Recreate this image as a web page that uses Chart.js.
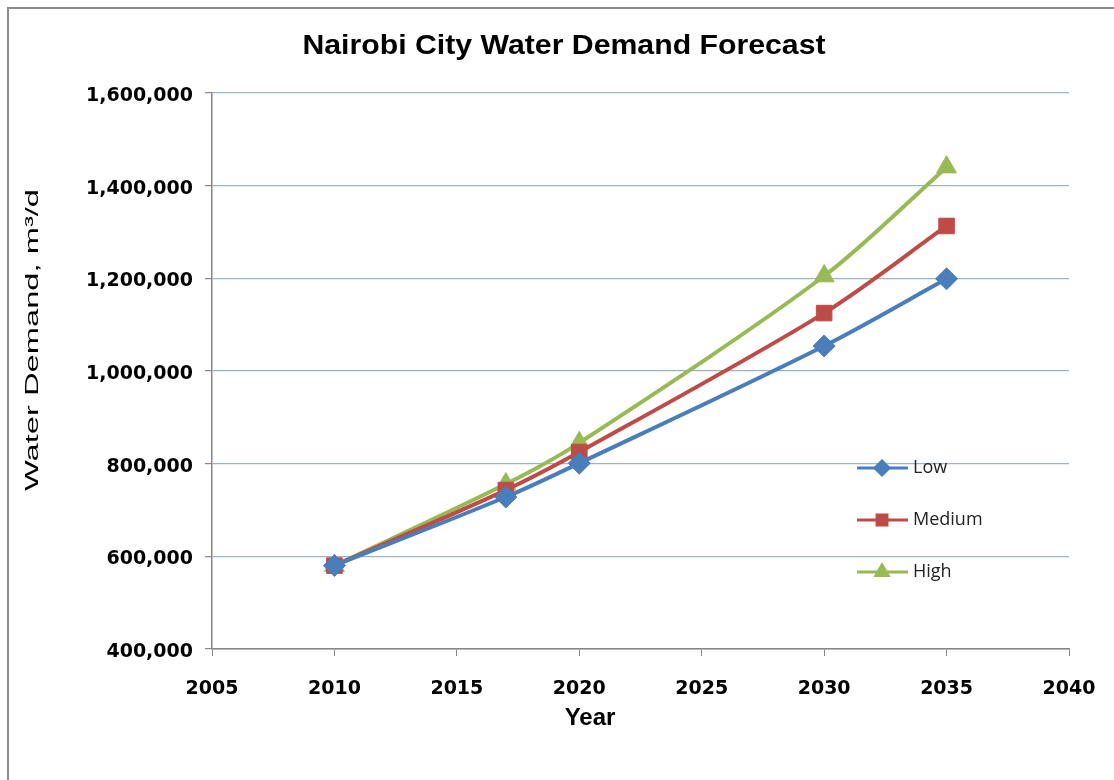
<!DOCTYPE html>
<html>
<head>
<meta charset="utf-8">
<script src="https://cdn.jsdelivr.net/npm/chart.js@4.4.1/dist/chart.umd.min.js"></script>
<style>
  html, body { margin: 0; padding: 0; background: #fff; }
  #wrap { position: relative; width: 1114px; height: 780px; overflow: hidden; }
  #frame { position: absolute; left: 7px; top: 7px; width: 1200px; height: 900px; border: 2px solid #8c8c8c; box-sizing: border-box; }
  #c { position: absolute; left: 0; top: 0; }
</style>
</head>
<body>
<div id="wrap">
  <div id="frame"></div>
  <canvas id="c" width="1114" height="780"></canvas>
</div>
<script>
// ---------- data ----------
const years  = [2010, 2017, 2020, 2030, 2035];
const low    = [580000, 728000, 801000, 1054000, 1199000];
const medium = [580000, 743000, 825000, 1125000, 1313000];
const high   = [580000, 756000, 845000, 1205000, 1440000];

const seriesNames = ["Low", "Medium", "High"];
const colors = ["#4a7ebb", "#be4b48", "#98b954"];
const markers = ["rectRot", "rect", "triangle"];

const chartTitle = "Nairobi City Water Demand Forecast";
const xTitle = "Year";
const yTitle = "Water Demand, m³/d";

const tickFont = { family: "DejaVu Sans", size: 19, weight: "bold" };

function pts(vals) { return years.map((y, i) => ({ x: y, y: vals[i] })); }

function ds(i, vals) {
  return {
    label: seriesNames[i],
    data: pts(vals),
    borderColor: colors[i],
    backgroundColor: colors[i],
    borderWidth: 4,
    tension: 0.3,
    pointStyle: markers[i],
    pointRadius: i === 2 ? 11.5 : 11,
    pointBorderWidth: 1,
    pointBorderColor: colors[i],
    pointBackgroundColor: colors[i]
  };
}

// titles: the original's text is stretched, so draw with a scale
function stretchedText(ctx, text, font, x, y, sx, rot) {
  ctx.save();
  ctx.translate(x, y);
  if (rot) ctx.rotate(rot);
  ctx.scale(sx, 1);
  ctx.font = font;
  ctx.fillStyle = "#000";
  ctx.textAlign = "center";
  ctx.textBaseline = "middle";
  ctx.fillText(text, 0, 0);
  ctx.restore();
}

const titles = {
  id: "titles",
  afterDraw(chart) {
    const ctx = chart.ctx;
    stretchedText(ctx, chartTitle, "bold 28px 'Liberation Sans'", 564, 46, 1.08, 0);
    stretchedText(ctx, xTitle, "bold 24px 'Liberation Sans'", 590, 718, 1.0, 0);
    stretchedText(ctx, yTitle, "19px 'Liberation Sans'", 33, 340, 1.72, -Math.PI / 2);
  }
};

// legend drawn inside the plot area, like the Excel original
const innerLegend = {
  id: "innerLegend",
  afterDatasetsDraw(chart) {
    const ctx = chart.ctx;
    const rows = [468, 520, 572];
    ctx.save();
    seriesNames.forEach((name, i) => {
      const y = rows[i];
      ctx.strokeStyle = colors[i];
      ctx.lineWidth = 3;
      ctx.beginPath();
      ctx.moveTo(857, y); ctx.lineTo(908, y);
      ctx.stroke();
      ctx.fillStyle = colors[i];
      Chart.helpers.drawPoint(ctx, { pointStyle: markers[i], radius: 7, borderWidth: 1 }, 882, y);
      ctx.fill();
      ctx.fillStyle = "#222";
      ctx.font = "18px 'Open Sans'";
      ctx.textBaseline = "middle";
      ctx.fillText(name, 913, y);
    });
    ctx.restore();
  }
};

new Chart(document.getElementById("c"), {
  type: "line",
  data: { datasets: [ds(0, low), ds(1, medium), ds(2, high)] },
  options: {
    responsive: false,
    animation: false,
    layout: { padding: { left: 0, right: 45, top: 93, bottom: 0 } },
    plugins: {
      legend: { display: false },
      tooltip: { enabled: false },
      title: { display: false }
    },
    scales: {
      x: {
        type: "linear",
        min: 2005, max: 2040,
        afterFit(s) { s.height = 131; s.paddingLeft = 0; s.paddingRight = 0; },
        ticks: { stepSize: 5, color: "#000", font: tickFont, padding: 22, callback: v => String(v) },
        grid: { drawOnChartArea: false, drawTicks: true, tickLength: 7, tickColor: "#868686" },
        border: { display: true, color: "#868686", width: 1.5 }
      },
      y: {
        min: 400000, max: 1600000,
        afterFit(s) { s.width = 212; s.paddingTop = 0; s.paddingBottom = 0; },
        ticks: { stepSize: 200000, color: "#000", font: tickFont, padding: 12, labelOffset: 3,
                 callback: v => v.toLocaleString("en-US") },
        grid: { color: "#9db3cc", lineWidth: 1.2, drawTicks: true, tickLength: 7, tickColor: "#868686" },
        border: { display: true, color: "#868686", width: 1.5 }
      }
    }
  },
  plugins: [innerLegend, titles]
});
</script>
</body>
</html>
